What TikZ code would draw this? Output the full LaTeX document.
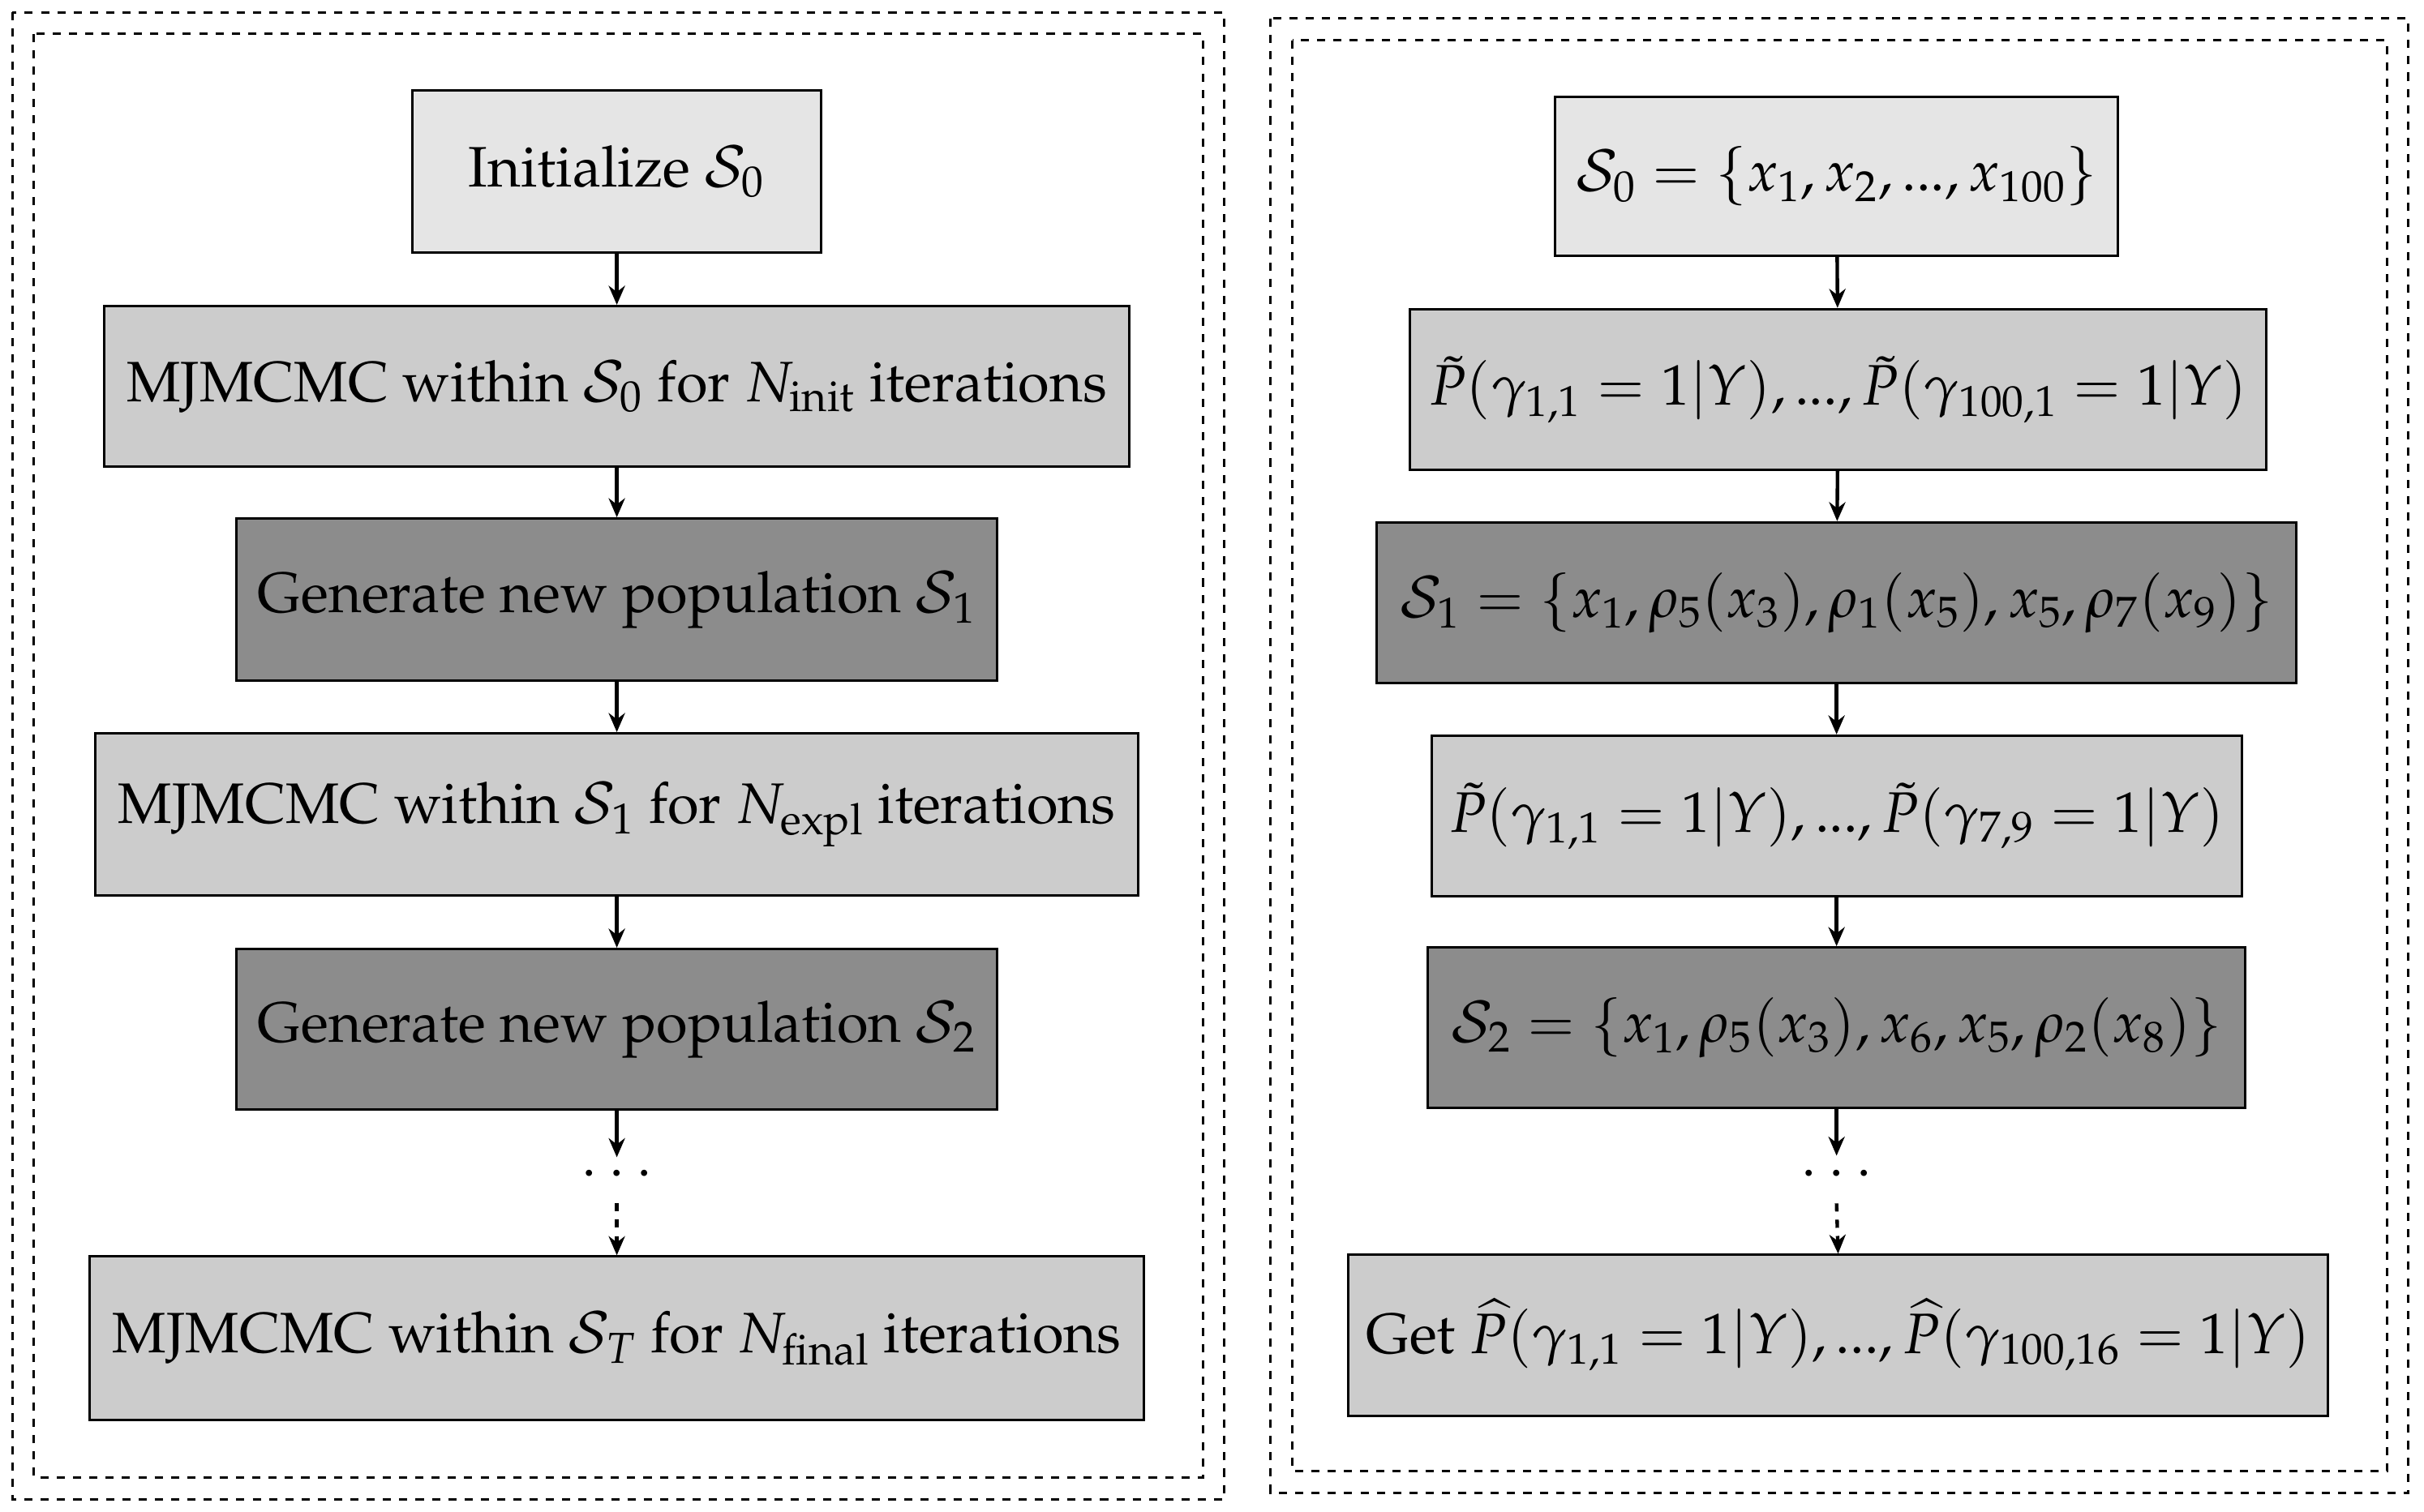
\documentclass[tikz,border=0pt]{standalone}
\usepackage[T1]{fontenc}
\usepackage{mathpazo}
\usetikzlibrary{arrows.meta}
\begin{document}
\begin{tikzpicture}[x=0.02cm,y=-0.02cm,
  box/.style={draw,line width=0.9pt,font=\fontsize{21}{25}\selectfont,inner sep=0pt},
  lt/.style={box,fill=black!10},
  md/.style={box,fill=black!20},
  dk/.style={box,fill=black!45},
  arr/.style={-{Stealth[length=7pt,width=6pt]},line width=1.3pt},
  frame/.style={dashed,line width=0.9pt}]
\useasboundingbox (0,0) rectangle (1568,978);
\draw[frame] (8,8) rectangle (792,970);
\draw[frame] (22,22) rectangle (778,956);
\draw[frame] (822,12) rectangle (1558,966);
\draw[frame] (836,26) rectangle (1544,952);
% left
\node[lt,minimum width=264*0.02cm,minimum height=105*0.02cm] (l1) at (399,111) {Initialize $\mathcal{S}_0$};
\node[md,minimum width=663*0.02cm,minimum height=104*0.02cm] (l2) at (399,250) {MJMCMC within $\mathcal{S}_0$ for $N_{\mathrm{init}}$ iterations};
\node[dk,minimum width=492*0.02cm,minimum height=105*0.02cm] (l3) at (399,388) {Generate new population $\mathcal{S}_1$};
\node[md,minimum width=675*0.02cm,minimum height=105*0.02cm] (l4) at (399,527) {MJMCMC within $\mathcal{S}_1$ for $N_{\mathrm{expl}}$ iterations};
\node[dk,minimum width=492*0.02cm,minimum height=104*0.02cm] (l5) at (399,666) {Generate new population $\mathcal{S}_2$};
\node[font=\fontsize{21}{25}\selectfont,inner sep=1pt] (ld) at (399,760) {$\cdots$};
\node[md,minimum width=682*0.02cm,minimum height=106*0.02cm] (l6) at (399,866) {MJMCMC within $\mathcal{S}_T$ for $N_{\mathrm{final}}$ iterations};
\draw[arr] (l1) -- (l2);
\draw[arr] (l2) -- (l3);
\draw[arr] (l3) -- (l4);
\draw[arr] (l4) -- (l5);
\draw[arr] (l5.south) -- ++(0,30);
\draw[arr,dashed] (ld.south) ++(0,8) coordinate (lds) -- (l6.north);
% right
\node[lt,minimum width=364*0.02cm,minimum height=103*0.02cm] (r1) at (1188,114) {$\mathcal{S}_0=\{x_1,x_2,...,x_{100}\}$};
\node[md,minimum width=554*0.02cm,minimum height=104*0.02cm] (r2) at (1189,252) {$\tilde{P}(\gamma_{1,1}=1|Y),...,\tilde{P}(\gamma_{100,1}=1|Y)$};
\node[dk,minimum width=595*0.02cm,minimum height=104*0.02cm] (r3) at (1188,390) {$\mathcal{S}_1=\{x_1,\rho_5(x_3),\rho_1(x_5),x_5,\rho_7(x_9)\}$};
\node[md,minimum width=524*0.02cm,minimum height=104*0.02cm] (r4) at (1188,528) {$\tilde{P}(\gamma_{1,1}=1|Y),...,\tilde{P}(\gamma_{7,9}=1|Y)$};
\node[dk,minimum width=529*0.02cm,minimum height=104*0.02cm] (r5) at (1188,665) {$\mathcal{S}_2=\{x_1,\rho_5(x_3),x_6,x_5,\rho_2(x_8)\}$};
\node[font=\fontsize{21}{25}\selectfont,inner sep=1pt] (rd) at (1188,760) {$\cdots$};
\node[md,minimum width=634*0.02cm,minimum height=104*0.02cm] (r6) at (1189,864) {Get $\widehat{P}(\gamma_{1,1}=1|Y),...,\widehat{P}(\gamma_{100,16}=1|Y)$};
\draw[arr] (r1) -- (r2);
\draw[arr] (r2) -- (r3);
\draw[arr] (r3) -- (r4);
\draw[arr] (r4) -- (r5);
\draw[arr] (r5.south) -- ++(0,30);
\draw[arr,dashed] (rd.south) ++(0,8) coordinate (rds) -- (r6.north);
\end{tikzpicture}
\end{document}
